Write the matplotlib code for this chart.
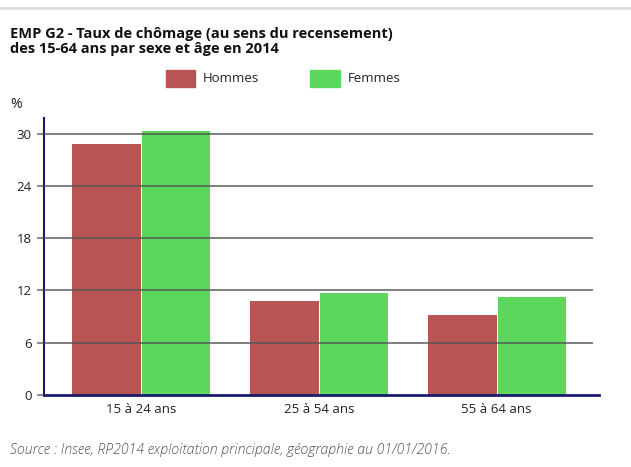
import matplotlib
matplotlib.use("Agg")
import matplotlib.pyplot as plt
import numpy as np
from matplotlib.patches import Rectangle
from matplotlib.lines import Line2D

plt.rcParams['font.family'] = ['Open Sans', 'DejaVu Sans']

categories = ["15 à 24 ans", "25 à 54 ans", "55 à 64 ans"]
hommes = [28.8, 10.8, 9.2]
femmes = [30.3, 11.7, 11.3]
yticks = [0, 6, 12, 18, 24, 30]

W, H = 631, 467
fig = plt.figure(figsize=(W/100, H/100), dpi=100)

ax = fig.add_axes([44/W, 1-395/H, (599-44)/W, (395-118)/H])
x = np.arange(len(categories))
bw = 0.385
c_h = "#b85454"
c_f = "#5cd65c"
ax.bar(x - bw/2, hommes, bw, color=c_h, zorder=2)
ax.bar(x + bw/2 + 0.005, femmes, bw, color=c_f, zorder=2)

ax.set_xlim(-0.545, 2.575)
ax.set_ylim(0, 31.8)
ax.set_yticks(yticks)
ax.set_yticklabels([str(t) for t in yticks], fontsize=9.5, color="#222222")
ax.set_xticks(x)
ax.set_xticklabels(categories, fontsize=9.5, color="#222222")
ax.tick_params(axis='x', length=0, pad=6)
ax.tick_params(axis='y', length=5, width=1.2, color="#777777", pad=4)

for t in yticks[1:]:
    ax.plot([-0.545, 2.54], [t, t], color="#555555", alpha=0.75, lw=1.4, zorder=3, solid_capstyle='butt')

for s in ['top', 'right']:
    ax.spines[s].set_visible(False)
ax.spines['left'].set_color("#1a1a6e")
ax.spines['left'].set_linewidth(1.5)
ax.spines['bottom'].set_color("#1a1a6e")
ax.spines['bottom'].set_linewidth(2)
ax.spines['bottom'].set_zorder(4)

fig.text(10/W, 1-104/H, "%", fontsize=10, color="#222222", va='center')

# top separator line
fig.add_artist(Line2D([0, 1], [1-8/H, 1-8/H], color="#dddddd", lw=2))

fig.text(10/W, 1-34/H, "EMP G2 - Taux de chômage (au sens du recensement)", fontsize=10.55,
         fontweight='bold', color="#111111", va='center')
fig.text(10/W, 1-49/H, "des 15-64 ans par sexe et âge en 2014", fontsize=10.55,
         fontweight='bold', color="#111111", va='center')

# legend
fig.add_artist(Rectangle((166/W, 1-87/H), 29/W, 17/H, color=c_h, transform=fig.transFigure))
fig.text(203/W, 1-79/H, "Hommes", fontsize=9.5, color="#222222", va='center')
fig.add_artist(Rectangle((310/W, 1-87/H), 30/W, 17/H, color=c_f, transform=fig.transFigure))
fig.text(348/W, 1-79/H, "Femmes", fontsize=9.5, color="#222222", va='center')

fig.text(10/W, 1-450/H, "Source : Insee, RP2014 exploitation principale, géographie au 01/01/2016.",
         fontsize=10.2, style='italic', fontweight='light', color="#555555", va='center')

fig.savefig("out.png", dpi=100)
